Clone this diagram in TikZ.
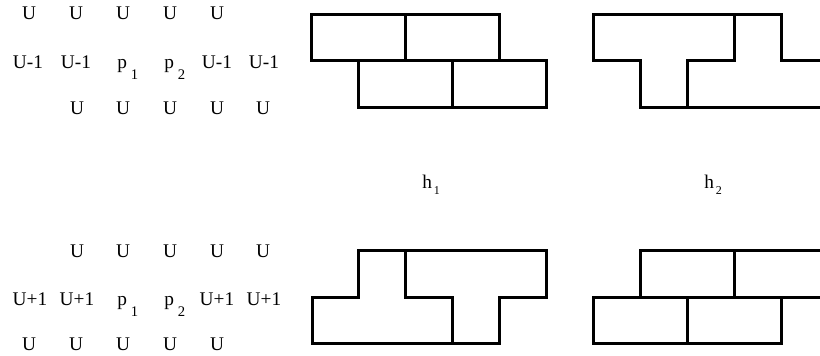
\documentclass[tikz,border=0pt]{standalone}
\usepackage{fontspec}
\setmainfont{Liberation Serif}
\definecolor{ink}{HTML}{000000}
\tikzset{
  every node/.style={
    text=ink,
    inner sep=0pt,
  },
  cell/.style={
    font=\fontsize{14.5}{17}\selectfont,
    anchor=base,
  },
  cellidx/.style={
    font=\fontsize{14.5}{17}\selectfont,
    anchor=base west,
  },
  brick/.style={
    draw=ink, line width=2.25pt, line join=miter,
  },
}
\newcommand{\pidx}[1]{\kern3pt\raisebox{-8.25pt}{\fontsize{11}{13}\selectfont #1}}
\newcommand{\hidx}[1]{\kern1.5pt\raisebox{-4.5pt}{\fontsize{9}{11}\selectfont #1}}

\begin{document}
\begin{tikzpicture}[x=0.75pt, y=-0.75pt]

% ============================================
% Coordinate system (px): x in [0,820], y inverted (top-down)
% Columns of the grids: x = 29, 76, 123, 170, 217, 264
% Brick unit: 47 px
% ============================================
\useasboundingbox (0,0) rectangle (820,356);
\clip (0,0) rectangle (820,356);

% ----- Upper grid -----
\node[cell] (tu1) at ( 29, 20) {U};
\node[cell] (tu2) at ( 76, 20) {U};
\node[cell] (tu3) at (123, 20) {U};
\node[cell] (tu4) at (170, 20) {U};
\node[cell] (tu5) at (217, 20) {U};

\node[cell]    (tm1) at ( 28, 69) {U-1};
\node[cell]    (tm2) at ( 76, 69) {U-1};
\node[cellidx] (tm3) at (117, 69) {p\pidx{1}};
\node[cellidx] (tm4) at (164, 69) {p\pidx{2}};
\node[cell]    (tm5) at (217, 69) {U-1};
\node[cell]    (tm6) at (264, 69) {U-1};

\node[cell] (tl2) at ( 77,115) {U};
\node[cell] (tl3) at (123,115) {U};
\node[cell] (tl4) at (170,115) {U};
\node[cell] (tl5) at (217,115) {U};
\node[cell] (tl6) at (263,115) {U};

% ----- Lower grid -----
\node[cell] (bu2) at ( 77,257) {U};
\node[cell] (bu3) at (123,257) {U};
\node[cell] (bu4) at (170,257) {U};
\node[cell] (bu5) at (217,257) {U};
\node[cell] (bu6) at (263,257) {U};

\node[cell]    (bm1) at ( 30,305) {U+1};
\node[cell]    (bm2) at ( 77,305) {U+1};
\node[cellidx] (bm3) at (117,305) {p\pidx{1}};
\node[cellidx] (bm4) at (164,305) {p\pidx{2}};
\node[cell]    (bm5) at (217,305) {U+1};
\node[cell]    (bm6) at (264,305) {U+1};

\node[cell] (bl1) at ( 29,350) {U};
\node[cell] (bl2) at ( 76,350) {U};
\node[cell] (bl3) at (123,350) {U};
\node[cell] (bl4) at (170,350) {U};
\node[cell] (bl5) at (217,350) {U};

% ----- Tiling h1 (top) -----
\draw[brick] (311, 15) rectangle (405, 61);
\draw[brick] (405, 15) rectangle (499, 61);
\draw[brick] (358, 61) rectangle (452,108);
\draw[brick] (452, 61) rectangle (546,108);

% ----- Tiling h2 (top) -----
\draw[brick] (593, 15) -- (734, 15) -- (734, 61) -- (687, 61)
  -- (687,108) -- (640,108) -- (640, 61) -- (593, 61) -- cycle;
\draw[brick] (734, 15) -- (781, 15) -- (781, 61) -- (828, 61)
  -- (828,108) -- (687,108) -- (687, 61) -- (734, 61) -- cycle;

% ----- Labels -----
\node[cellidx] (h1) at (422,188) {h\hidx{1}};
\node[cellidx] (h2) at (704,188) {h\hidx{2}};

% ----- Tiling h1 (bottom) -----
\draw[brick] (358,250) -- (405,250) -- (405,297) -- (452,297)
  -- (452,343) -- (312,343) -- (312,297) -- (358,297) -- cycle;
\draw[brick] (405,250) -- (546,250) -- (546,297) -- (499,297)
  -- (499,343) -- (452,343) -- (452,297) -- (405,297) -- cycle;

% ----- Tiling h2 (bottom) -----
\draw[brick] (640,250) rectangle (734,297);
\draw[brick] (734,250) rectangle (828,297);
\draw[brick] (593,297) rectangle (687,343);
\draw[brick] (687,297) rectangle (781,343);

\end{tikzpicture}
\end{document}
